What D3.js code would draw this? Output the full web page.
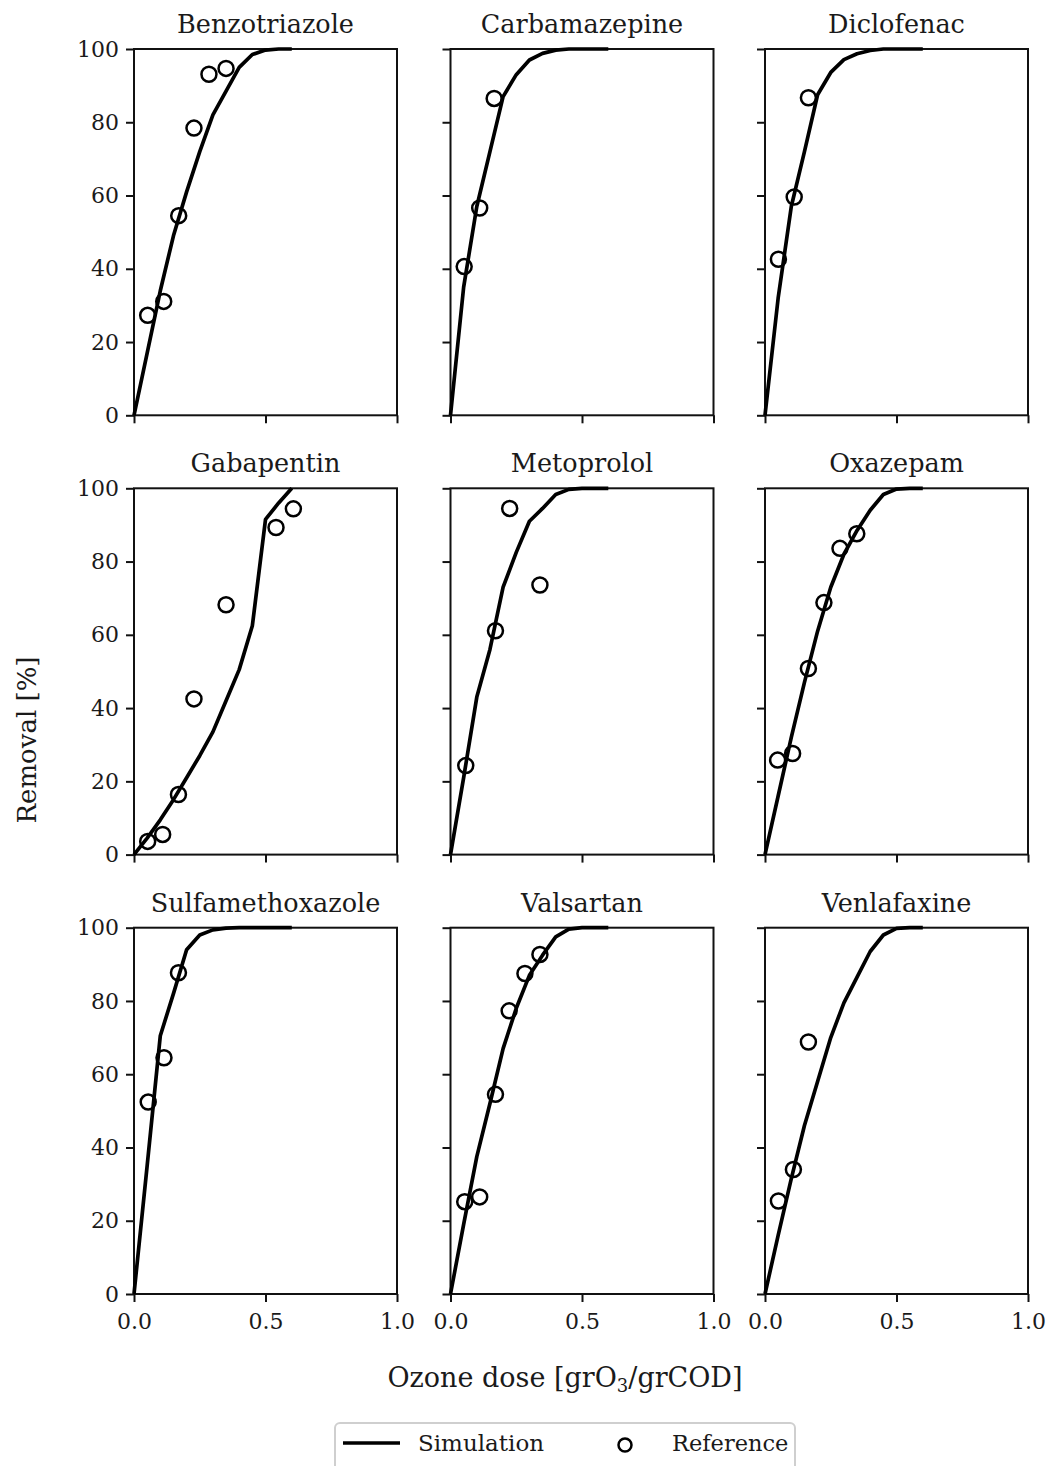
<!DOCTYPE html>
<html>
<head>
<meta charset="utf-8">
<script src="https://cdn.jsdelivr.net/npm/d3@7"></script>
<style>
  html, body { margin: 0; padding: 0; background: #fff; }
  svg text { font-family: "DejaVu Serif", serif; fill: #1a1a1a; }
</style>
</head>
<body>
<svg id="chart" width="1046" height="1466"></svg>
<script>
// ---------- data ----------
const compounds = ["Benzotriazole", "Carbamazepine", "Diclofenac",
                   "Gabapentin", "Metoprolol", "Oxazepam",
                   "Sulfamethoxazole", "Valsartan", "Venlafaxine"];

const simDose = [0, 0.05, 0.1, 0.15, 0.2, 0.25, 0.3, 0.35, 0.4, 0.45, 0.5, 0.55, 0.6];

const simBenzotriazole    = [0, 17, 34, 49, 61, 72, 82, 88.5, 95, 98.5, 99.7, 100, 100];
const simCarbamazepine    = [0, 35, 57, 72, 87, 93, 97, 98.8, 99.7, 100, 100, 100, 100];
const simDiclofenac       = [0, 32, 57, 72, 87.5, 93.6, 97.1, 98.7, 99.6, 100, 100, 100, 100];
const simGabapentin       = [0, 4.5, 9.5, 15, 21, 27, 33.5, 42, 50.5, 62.5, 91.5, 96, 100];
const simMetoprolol       = [0, 21, 43, 56, 73, 82.5, 91, 94.5, 98.3, 99.7, 100, 100, 100];
const simOxazepam         = [0, 16, 32, 47, 61, 73, 82, 88.5, 94, 98.3, 99.8, 100, 100];
const simSulfamethoxazole = [0, 35, 70.5, 82, 94, 98, 99.4, 99.9, 100, 100, 100, 100, 100];
const simValsartan        = [0, 19, 37.5, 52, 67, 78, 87, 92.5, 97.5, 99.6, 100, 100, 100];
const simVenlafaxine      = [0, 16, 31.5, 46, 58, 70, 79.5, 86.5, 93.5, 98, 99.8, 100, 100];

const refDoseBenzotriazole    = [0.052, 0.113, 0.170, 0.228, 0.285, 0.350];
const refBenzotriazole        = [27.3, 31.1, 54.5, 78.4, 93.1, 94.7];
const refDoseCarbamazepine    = [0.052, 0.111, 0.166];
const refCarbamazepine        = [40.6, 56.6, 86.5];
const refDoseDiclofenac       = [0.051, 0.111, 0.165];
const refDiclofenac           = [42.6, 59.6, 86.7];
const refDoseGabapentin       = [0.052, 0.109, 0.169, 0.228, 0.350, 0.540, 0.606];
const refGabapentin           = [3.6, 5.5, 16.4, 42.5, 68.2, 89.3, 94.4];
const refDoseMetoprolol       = [0.058, 0.171, 0.225, 0.340];
const refMetoprolol           = [24.3, 61.1, 94.5, 73.6];
const refDoseOxazepam         = [0.048, 0.105, 0.165, 0.224, 0.285, 0.349];
const refOxazepam             = [25.8, 27.6, 50.8, 68.8, 83.6, 87.6];
const refDoseSulfamethoxazole = [0.054, 0.114, 0.169];
const refSulfamethoxazole     = [52.4, 64.5, 87.7];
const refDoseValsartan        = [0.054, 0.111, 0.171, 0.223, 0.283, 0.340];
const refValsartan            = [25.2, 26.5, 54.5, 77.3, 87.5, 92.7];
const refDoseVenlafaxine      = [0.051, 0.108, 0.165];
const refVenlafaxine          = [25.4, 34.0, 68.8];

const xTicks = [0, 0.5, 1.0];
const xTickLabels = ["0.0", "0.5", "1.0"];
const yTicks = [0, 20, 40, 60, 80, 100];
const yTickLabels = ["0", "20", "40", "60", "80", "100"];

const simSeries = [simBenzotriazole, simCarbamazepine, simDiclofenac, simGabapentin,
                   simMetoprolol, simOxazepam, simSulfamethoxazole, simValsartan, simVenlafaxine];
const refDoses = [refDoseBenzotriazole, refDoseCarbamazepine, refDoseDiclofenac, refDoseGabapentin,
                  refDoseMetoprolol, refDoseOxazepam, refDoseSulfamethoxazole, refDoseValsartan, refDoseVenlafaxine];
const refSeries = [refBenzotriazole, refCarbamazepine, refDiclofenac, refGabapentin,
                   refMetoprolol, refOxazepam, refSulfamethoxazole, refValsartan, refVenlafaxine];

// ---------- layout ----------
const colLeft = [134, 450.5, 765];
const rowTop = [49, 488.3, 927.7];
const pw = 263, ph = 366.3;

const svg = d3.select("#chart");

const x = d3.scaleLinear().domain([0, 1]).range([0, pw]);
const y = d3.scaleLinear().domain([0, 100]).range([ph, 0]);

const line = d3.line().x(d => x(d[0])).y(d => y(d[1]));

compounds.forEach((name, i) => {
  const r = Math.floor(i / 3), c = i % 3;
  const g = svg.append("g").attr("transform", `translate(${colLeft[c]},${rowTop[r]})`);

  // y axis
  const ya = d3.axisLeft(y).tickValues(yTicks).tickSize(8).tickPadding(7)
    .tickFormat((d, k) => c === 0 ? yTickLabels[k] : "");
  const yg = g.append("g").call(ya);
  yg.select(".domain").remove();
  yg.selectAll(".tick line").attr("stroke", "#111").attr("stroke-width", 2);
  yg.selectAll(".tick text").style("font-size", "22px").attr("fill", "#1a1a1a");

  // x axis
  const xa = d3.axisBottom(x).tickValues(xTicks).tickSize(8).tickPadding(11)
    .tickFormat((d, k) => r === 2 ? xTickLabels[k] : "");
  const xg = g.append("g").attr("transform", `translate(0,${ph})`).call(xa);
  xg.select(".domain").remove();
  xg.selectAll(".tick line").attr("stroke", "#111").attr("stroke-width", 2);
  xg.selectAll(".tick text").style("font-size", "22px").attr("fill", "#1a1a1a");

  // frame
  g.append("rect").attr("x", 0).attr("y", 0).attr("width", pw).attr("height", ph)
    .attr("fill", "none").attr("stroke", "#111").attr("stroke-width", 2);

  // simulation line
  const simData = simDose.map((d, k) => [d, simSeries[i][k]]);
  g.append("path").datum(simData).attr("d", line)
    .attr("fill", "none").attr("stroke", "#000").attr("stroke-width", 3.7)
    .attr("stroke-linejoin", "round");

  // reference points
  const refData = refDoses[i].map((d, k) => [d, refSeries[i][k]]);
  g.selectAll("circle.ref").data(refData).enter().append("circle")
    .attr("class", "ref")
    .attr("cx", d => x(d[0])).attr("cy", d => y(d[1])).attr("r", 7.5)
    .attr("fill", "none").attr("stroke", "#000").attr("stroke-width", 2.5);

  // title
  g.append("text").attr("x", pw / 2).attr("y", -16).attr("text-anchor", "middle")
    .style("font-size", "25.5px").text(name);
});

// y label
svg.append("text")
  .attr("transform", "translate(36,740) rotate(-90)")
  .attr("text-anchor", "middle")
  .style("font-size", "26px")
  .text("Removal [%]");

// x label
const xl = svg.append("text").attr("x", 565).attr("y", 1387).attr("text-anchor", "middle")
  .style("font-size", "27px");
xl.append("tspan").text("Ozone dose [grO");
xl.append("tspan").attr("dy", 5).style("font-size", "18px").text("3");
xl.append("tspan").attr("dy", -5).text("/grCOD]");

// legend
const lg = svg.append("g");
lg.append("rect").attr("x", 335).attr("y", 1423).attr("width", 460).attr("height", 60)
  .attr("rx", 5).attr("fill", "#fff").attr("stroke", "#cfcfcf").attr("stroke-width", 2);
lg.append("line").attr("x1", 343).attr("x2", 400).attr("y1", 1443).attr("y2", 1443)
  .attr("stroke", "#000").attr("stroke-width", 3.5);
lg.append("text").attr("x", 418).attr("y", 1451).style("font-size", "23px").text("Simulation");
lg.append("circle").attr("cx", 625).attr("cy", 1445).attr("r", 6.5)
  .attr("fill", "none").attr("stroke", "#000").attr("stroke-width", 2.5);
lg.append("text").attr("x", 672).attr("y", 1451).style("font-size", "22.5px").text("Reference");
</script>
</body>
</html>
